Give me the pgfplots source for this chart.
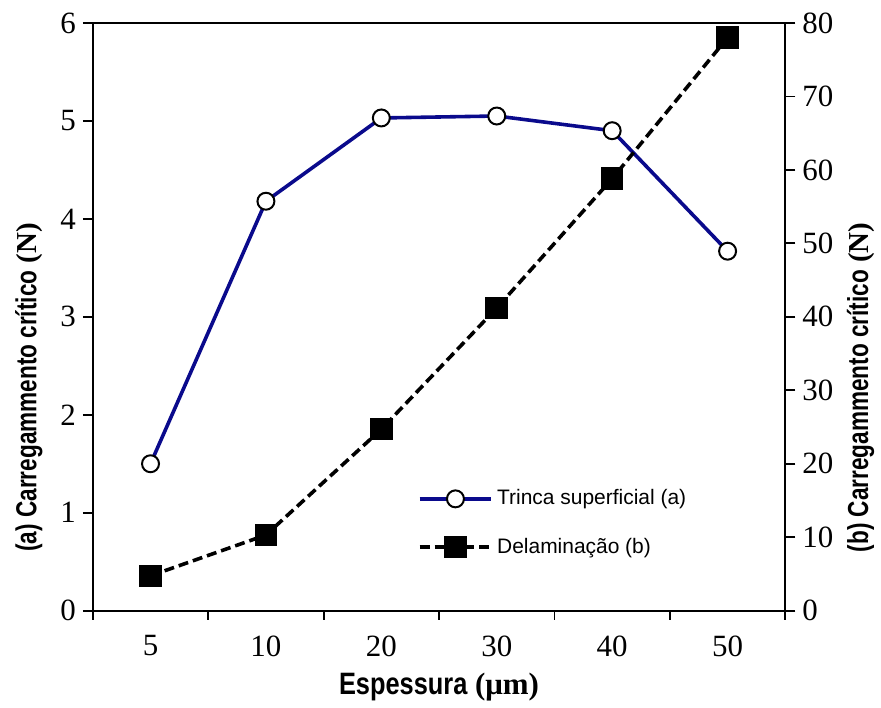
\documentclass[border=0pt]{standalone}
\usepackage{fontspec}
\setmainfont{Liberation Serif}
\newfontfamily\narrowsans[FakeStretch=0.82]{Liberation Sans}
\newfontfamily\ylabsans[FakeStretch=0.78]{Liberation Sans}
\newfontfamily\legsans{Liberation Sans}
\usepackage{pgfplots}
\pgfplotsset{compat=1.18}
\definecolor{navy}{RGB}{10,10,140}

\pgfplotsset{
  common/.style={
    width=347pt, height=294.5pt, scale only axis,
    xmin=0, xmax=6,
    tick align=outside,
    major tick length=5pt,
    axis line style={line width=0.9pt},
    every tick/.style={line width=0.9pt, black},
    /pgf/number format/assume math mode=true,
    tick label style={font=\fontsize{15.5}{18}\selectfont},
    label style={font=\fontsize{15.5}{18}\selectfont},
    ylabel style={at={(ticklabel cs:0.38)}, font=\fontsize{14.5}{17}\selectfont},
  }
}

\begin{document}
\begin{tikzpicture}
\begin{axis}[
  common,
  ymin=0, ymax=6, ytick={0,1,...,6},
  ytick pos=left, xtick pos=bottom,
  xtick={0.5,1.5,2.5,3.5,4.5,5.5},
  xticklabels={5,10,20,30,40,50},
  major x tick style={draw=none},
  minor xtick={0,1,...,6},
  minor tick length=4.5pt,
  xticklabel style={yshift=-4pt},
  xlabel={{\narrowsans\bfseries Espessura} {\bfseries(μm)}},
  xlabel shift=1.5pt,
  ylabel={{\ylabsans\bfseries (a) Carregammento crítico} {\bfseries(N)}},
  ylabel shift=2pt,
]
\coordinate (sw) at (rel axis cs:0,0);
\coordinate (ne) at (rel axis cs:1,1);
\addplot[navy, line width=1.8pt, mark=*, mark size=4.25pt,
  mark options={fill=white, draw=black, line width=1pt}]
  coordinates {(0.5,1.50) (1.5,4.18) (2.5,5.03) (3.5,5.05) (4.5,4.90) (5.5,3.67)};
\end{axis}
\begin{axis}[
  common,
  axis y line*=right, axis x line=none,
  ymin=0, ymax=80, ytick={0,10,...,80},
  ylabel={{\ylabsans\bfseries (b) Carregammento crítico} {\bfseries(N)}},
  legend style={at={(0.46,0.22)}, anchor=north west, draw=none, fill=none,
    font=\legsans\fontsize{10.5}{12}\selectfont, row sep=11pt},
  legend cell align=left,
  legend image code/.code={\draw[mark repeat=2, mark phase=2, #1]
    plot coordinates {(0pt,0pt) (18pt,0pt) (36pt,0pt)};},
]
\addlegendimage{navy, line width=1.8pt, mark=*, mark size=4.25pt,
  mark options={fill=white, draw=black, line width=1pt}}
\addlegendentry{Trinca superficial (a)}
\addplot[black, line width=1.8pt, dash pattern=on 5pt off 2.5pt,
  mark=square*, mark size=4.75pt, mark options={solid}]
  coordinates {(0.5,4.75) (1.5,10.3) (2.5,24.7) (3.5,41.2) (4.5,58.8) (5.5,78.0)};
\addlegendentry{Delaminação (b)}
\end{axis}
\path (sw) ++(-46.5pt,-45pt) coordinate (bl);
\path (ne) ++(47pt,11.5pt) coordinate (tr);
\path (bl) rectangle (tr);
\end{tikzpicture}
\end{document}
